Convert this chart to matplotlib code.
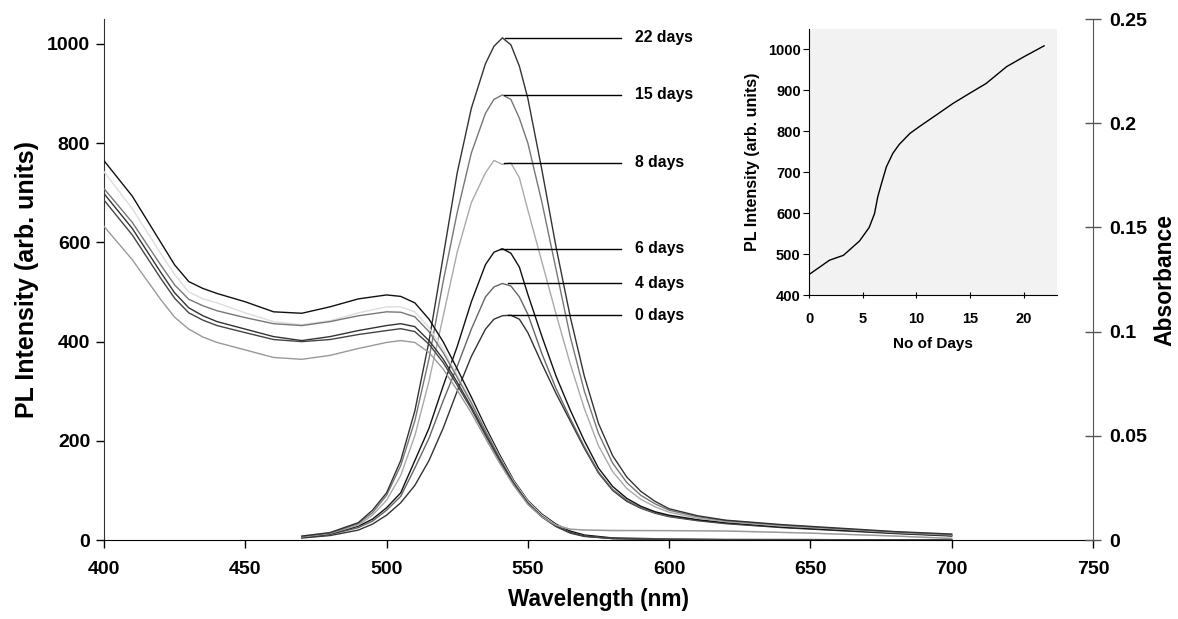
import matplotlib
matplotlib.use("Agg")
import matplotlib.pyplot as plt

plt.rcParams['font.family'] = ['Liberation Sans', 'DejaVu Sans']
plt.rcParams['font.weight'] = 'bold'

# PL emission spectra (arb. units)
wl_pl = [470, 480, 490, 495, 500, 505, 510, 515, 520, 525, 530, 535, 538, 541,
         544, 547, 550, 555, 560, 565, 570, 575, 580, 585, 590, 595, 600, 610,
         620, 640, 660, 680, 700]
pl_0 = [4, 9, 20, 32, 50, 75, 110, 160, 225, 300, 370, 425, 445, 452,
        453, 445, 418, 355, 295, 240, 185, 135, 100, 78, 64, 54, 47, 39,
        33, 25, 19, 13, 8]
pl_4 = [5, 11, 25, 38, 60, 88, 145, 205, 280, 350, 425, 490, 510, 517,
        512, 490, 455, 375, 305, 245, 188, 137, 102, 80, 65, 55, 48, 40,
        34, 26, 20, 14, 9]
pl_6 = [5, 12, 28, 42, 65, 95, 160, 225, 310, 390, 480, 555, 580, 587,
        578, 550, 495, 410, 330, 262, 200, 145, 108, 84, 68, 57, 50, 41,
        35, 26, 20, 14, 9]
pl_8 = [6, 13, 30, 50, 80, 130, 210, 320, 450, 580, 680, 740, 765, 757,
        760, 730, 665, 560, 455, 355, 265, 190, 138, 104, 82, 67, 56, 44,
        37, 28, 22, 15, 10]
pl_15 = [7, 14, 33, 55, 90, 150, 240, 365, 520, 660, 780, 860, 888, 897,
         888, 850, 800, 680, 545, 410, 300, 215, 155, 116, 90, 73, 60, 47,
         39, 30, 23, 16, 11]
pl_22 = [8, 15, 35, 60, 95, 160, 260, 400, 570, 740, 870, 960, 995, 1012,
         998, 955, 890, 745, 590, 450, 330, 235, 170, 127, 98, 78, 63, 49,
         40, 31, 24, 17, 12]

# Absorbance spectra (absorbance units)
wl_abs = [400, 410, 420, 425, 430, 435, 440, 450, 460, 470, 480, 490, 500,
          505, 510, 515, 520, 525, 530, 535, 540, 545, 550, 555, 560, 565,
          570, 580, 600, 620, 650, 680, 700]
abs_a = [0.182, 0.165, 0.143, 0.132, 0.124, 0.1207, 0.1183, 0.1143, 0.1095, 0.1088,
         0.1119, 0.1157, 0.1176, 0.1169, 0.1138, 0.106, 0.0952, 0.0821, 0.0686,
         0.0543, 0.041, 0.0286, 0.019, 0.0124, 0.0076, 0.0043, 0.0024, 0.001,
         0.0005, 0.0002, 0.0002, 0.0, 0.0]
abs_b = [0.1767, 0.159, 0.1376, 0.1274, 0.119, 0.1157, 0.1138, 0.109, 0.1048, 0.1033,
         0.1052, 0.109, 0.1119, 0.1119, 0.1095, 0.1019, 0.0917, 0.0793, 0.0667,
         0.0529, 0.04, 0.0281, 0.0186, 0.0119, 0.0071, 0.0052, 0.0048, 0.0048,
         0.0045, 0.0045, 0.0033, 0.0019, 0.001]
abs_c = [0.1686, 0.1524, 0.1321, 0.1224, 0.1155, 0.1124, 0.11, 0.1067, 0.1038, 0.1029,
         0.1048, 0.1076, 0.1095, 0.1093, 0.1071, 0.1, 0.09, 0.0781, 0.0657,
         0.0524, 0.0395, 0.0276, 0.0181, 0.0114, 0.0067, 0.0036, 0.0019, 0.0007,
         0.0005, 0.0003, 0.0002, 0.0001, 0.0]
abs_d = [0.1662, 0.1495, 0.1286, 0.1186, 0.1114, 0.1076, 0.1048, 0.1012, 0.0976, 0.0957,
         0.0976, 0.1005, 0.1029, 0.1038, 0.1024, 0.0957, 0.0869, 0.0757, 0.0638,
         0.051, 0.0386, 0.0271, 0.0176, 0.0112, 0.0067, 0.0036, 0.0019, 0.0007,
         0.0002, 0.0001, 0.0, 0.0, 0.0]
abs_e = [0.1631, 0.1464, 0.1257, 0.116, 0.109, 0.1055, 0.1029, 0.0995, 0.0962, 0.0952,
         0.0962, 0.0986, 0.1005, 0.1014, 0.1, 0.094, 0.0852, 0.0743, 0.0629,
         0.0502, 0.0381, 0.0267, 0.0174, 0.011, 0.0064, 0.0033, 0.0017, 0.0007,
         0.0002, 0.0001, 0.0, 0.0, 0.0]
abs_f = [0.1505, 0.1345, 0.1155, 0.1069, 0.1012, 0.0974, 0.0948, 0.0912, 0.0876, 0.0867,
         0.0886, 0.0919, 0.0948, 0.0957, 0.0948, 0.09, 0.0821, 0.0719, 0.061,
         0.0488, 0.0369, 0.0262, 0.0171, 0.011, 0.0071, 0.0052, 0.0048, 0.0045,
         0.0045, 0.0043, 0.0033, 0.0019, 0.0007]

labels = ['0 days', '4 days', '6 days', '8 days', '15 days', '22 days']
peak_wl = [543, 543, 540, 541.5, 541.5, 541.8]
peak_pl = [453, 517, 587, 760, 897, 1012]

# inset: peak PL vs storage time
days = [0, 1.9, 3.2, 4.7, 5.6, 6.1, 6.4, 6.7, 7.2, 7.8, 8.4, 9.4, 10.3,
        11.8, 13.4, 14.9, 16.5, 18.4, 20, 21.9]
peak_vs_day = [450, 485, 497, 532, 565, 599, 640, 668, 713, 746, 768, 795, 812,
               839, 868, 892, 917, 958, 982, 1009]

fig = plt.figure(figsize=(11.78, 6.19), dpi=100)
ax = fig.add_axes([0.0883, 0.1276, 0.8395, 0.8417])
ax2 = ax.twinx()

pl_series = [pl_0, pl_4, pl_6, pl_8, pl_15, pl_22]
pl_colors = ['#333333', '#666666', '#111111', '#aaaaaa', '#777777', '#333333']
for y, c in zip(pl_series, pl_colors):
    ax.plot(wl_pl, y, color=c, lw=1.0)

abs_series = [abs_a, abs_b, abs_c, abs_d, abs_e, abs_f]
abs_colors = ['#111111', '#dddddd', '#777777', '#333333', '#444444', '#999999']
for y, c in zip(abs_series, abs_colors):
    ax2.plot(wl_abs, y, color=c, lw=1.0)

# peak labels
for lab, xw, yp in zip(labels, peak_wl, peak_pl):
    ax.plot([xw, 583], [yp, yp], color='black', lw=1.0)
    ax.text(588, yp, lab, fontsize=11.3, fontweight='bold', va='center', ha='left')

ax.set_xlim(400, 750)
ax.set_ylim(0, 1050)
ax2.set_ylim(0, 0.25)
ax.set_xticks([400, 450, 500, 550, 600, 650, 700, 750])
ax.set_yticks([0, 200, 400, 600, 800, 1000])
ax2.set_yticks([0, 0.05, 0.1, 0.15, 0.2, 0.25])
ax2.set_yticklabels(['0', '0.05', '0.1', '0.15', '0.2', '0.25'])

for a in (ax, ax2):
    a.spines['top'].set_visible(False)
ax.spines['right'].set_visible(False)
ax2.spines['left'].set_visible(False)
ax2.spines['bottom'].set_visible(False)
ax2.spines['right'].set_color('#555555')
ax.spines['left'].set_color('#333333')

ax.tick_params(axis='y', labelsize=14, length=6, width=1, direction='out', pad=4)
ax.tick_params(axis='x', labelsize=14, length=6, width=1, direction='out', pad=9)
ax2.tick_params(axis='y', labelsize=14, length=12, width=1, direction='inout', pad=6,
                color='#555555')
ax.set_xlabel('Wavelength (nm)', fontsize=16.3, fontweight='bold', labelpad=7)
ax.set_ylabel('PL Intensity (arb. units)', fontsize=18, fontweight='bold', labelpad=6)
ax2.set_ylabel('Absorbance', fontsize=16.5, fontweight='bold', labelpad=4)

# inset
ins = fig.add_axes([0.6868, 0.5234, 0.2105, 0.4297])
ins.set_facecolor('#f2f2f2')
ins.plot(days, peak_vs_day, color='black', lw=1.0)
ins.set_xlim(0, 23.1)
ins.set_ylim(400, 1050)
ins.set_xticks([0, 5, 10, 15, 20])
ins.set_yticks([400, 500, 600, 700, 800, 900, 1000])
ins.spines['top'].set_visible(False)
ins.spines['right'].set_visible(False)
ins.tick_params(axis='y', labelsize=10.5, length=4, direction='out', pad=2)
ins.tick_params(axis='x', labelsize=10.5, length=4, direction='inout', pad=10)
ins.set_xlabel('No of Days', fontsize=11, fontweight='bold', labelpad=8)
ins.set_ylabel('PL Intensity (arb. units)', fontsize=11.5, fontweight='bold', labelpad=6)

fig.savefig('out.png', dpi=100)
